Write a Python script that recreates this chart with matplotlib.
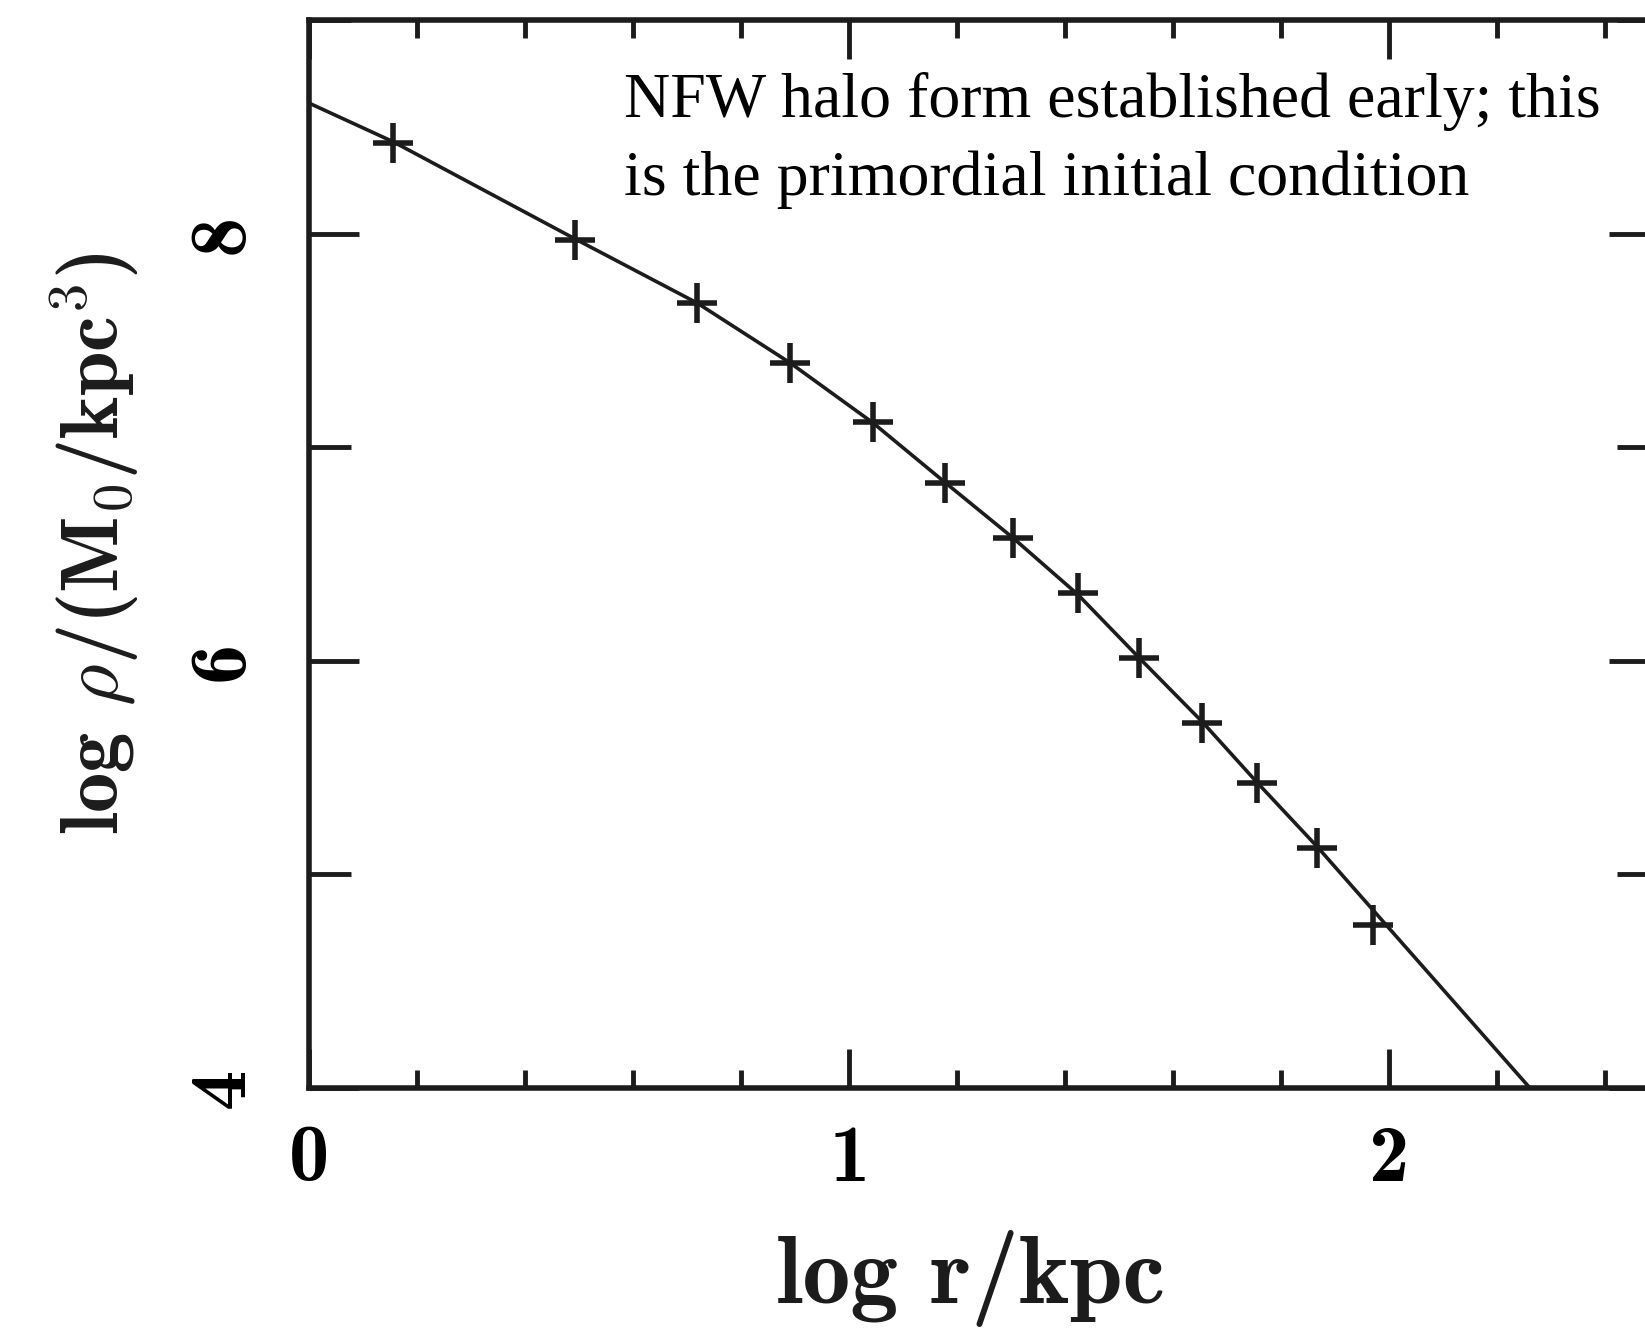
import numpy as np
import matplotlib
matplotlib.use("Agg")
import matplotlib.pyplot as plt
from matplotlib.ticker import MultipleLocator, FuncFormatter

# simulated halo points (crosses)
log_r_pts = [0.155, 0.492, 0.718, 0.890, 1.043, 1.177, 1.303, 1.423, 1.536, 1.653, 1.755, 1.866, 1.969]
log_rho_pts = [8.426, 7.97, 7.673, 7.392, 7.116, 6.830, 6.573, 6.316, 6.012, 5.71, 5.427, 5.123, 4.763]

# NFW fit curve
log_r_fit = [0.0, 0.155, 0.492, 0.718, 0.890, 1.043, 1.177, 1.303, 1.423, 1.536, 1.653, 1.755, 1.866, 2.26]
log_rho_fit = [8.61, 8.43, 7.975, 7.675, 7.395, 7.115, 6.835, 6.575, 6.31, 6.015, 5.715, 5.43, 5.13, 4.0]

note = "NFW halo form established early; this\nis the primordial initial condition"

plt.rcParams['mathtext.fontset'] = 'cm'
plt.rcParams['font.family'] = ['cmb10', 'DejaVu Serif']
ink = '#1c1c1c'

fig = plt.figure(figsize=(16.45, 13.32), dpi=100)
ax = fig.add_axes([0.1881, 0.1832, 0.8207, 0.8018])

ax.plot(log_r_fit, log_rho_fit, color=ink, lw=2.6)
ax.plot(log_r_pts, log_rho_pts, ls='none', marker='+', ms=29, mew=4, color=ink)

ax.set_xlim(0, 2.5)
ax.set_ylim(4, 9)

for s in ax.spines.values():
    s.set_linewidth(4)
    s.set_color(ink)

ax.xaxis.set_major_locator(MultipleLocator(1))
ax.xaxis.set_minor_locator(MultipleLocator(0.2))
ax.yaxis.set_major_locator(MultipleLocator(2))
ax.yaxis.set_minor_locator(MultipleLocator(1))
ax.xaxis.set_major_formatter(FuncFormatter(lambda v, p: "%d" % round(v)))
ax.yaxis.set_major_formatter(FuncFormatter(lambda v, p: "%d" % round(v)))

ax.tick_params(which='both', direction='in', top=True, right=True, color=ink, width=3.5)
ax.tick_params(axis='x', which='major', length=28, pad=26, labelsize=58)
ax.tick_params(axis='x', which='minor', length=13)
ax.tick_params(axis='y', which='major', length=36, pad=36, labelsize=58, labelrotation=90)
ax.tick_params(axis='y', which='minor', length=30)
for lab in ax.get_yticklabels():
    lab.set_va('center')

ax.set_xlabel("log r/kpc", fontsize=69, color=ink, va='baseline')
ax.xaxis.set_label_coords(0.49, -0.201)
ax.set_ylabel(r"log $\rho$/(M$_\mathbf{0}$/kpc$^\mathbf{3}$)", fontsize=58, color=ink, va='center')
ax.yaxis.set_label_coords(-0.159, 0.51)

ax.text(0.233, 0.951, note, transform=ax.transAxes, family='Liberation Serif',
        fontsize=46, color='black', ha='left', va='top', linespacing=1.42)

fig.savefig("out.png", dpi=100)
